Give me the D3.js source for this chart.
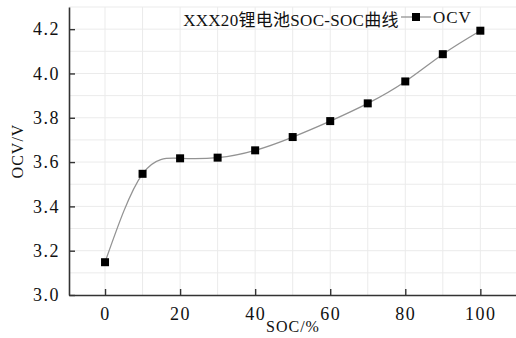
<!DOCTYPE html>
<html>
<head>
<meta charset="utf-8">
<script src="https://cdn.jsdelivr.net/npm/d3@7"></script>
<style>
  body { margin: 0; background: #fff; }
  svg { display: block; }
</style>
</head>
<body>
<div id="chart"></div>
<script>
const socValues = [0, 10, 20, 30, 40, 50, 60, 70, 80, 90, 100]
const ocvValues = [3.148, 3.547, 3.617, 3.620, 3.653, 3.713, 3.785, 3.865, 3.964, 4.087, 4.193]
const xTicks = [0, 20, 40, 60, 80, 100]
const yTicks = [3.0, 3.2, 3.4, 3.6, 3.8, 4.0, 4.2]
const titleText = 'XXX20锂电池SOC-SOC曲线'
const seriesName = 'OCV'

const W = 516, H = 338
const margin = { top: 7, right: 0, bottom: 43, left: 69 }
const FONT = '"Liberation Serif", "DejaVu Serif", "Noto Sans CJK SC", serif'

const svg = d3.select('#chart').append('svg')
  .attr('width', W).attr('height', H)

const x = d3.scaleLinear().domain([-9.6, 109.5]).range([margin.left, W - margin.right])
const y = d3.scaleLinear().domain([3.0, 4.3]).range([H - margin.bottom, margin.top])

// grid every 10 / 0.1
const grid = svg.append('g')
grid.selectAll('line.gx').data(d3.range(0, 110, 10)).enter().append('line')
  .attr('x1', d => x(d)).attr('x2', d => x(d))
  .attr('y1', y(3.0)).attr('y2', y(4.3))
  .attr('stroke', '#ebebeb').attr('stroke-width', 1)
grid.selectAll('line.gy').data(d3.range(3.1, 4.31, 0.1)).enter().append('line')
  .attr('x1', x.range()[0]).attr('x2', x.range()[1])
  .attr('y1', d => y(d)).attr('y2', d => y(d))
  .attr('stroke', '#ebebeb').attr('stroke-width', 1)

// axes
const xAxis = svg.append('g')
  .attr('transform', `translate(0,${y(3.0)})`)
  .call(d3.axisBottom(x).tickValues(xTicks).tickSizeInner(-6).tickSizeOuter(0).tickPadding(12).tickFormat(d3.format('d')))
const yAxis = svg.append('g')
  .attr('transform', `translate(${x.range()[0]},0)`)
  .call(d3.axisLeft(y).tickValues(yTicks).tickSizeInner(-6).tickSizeOuter(0).tickPadding(9).tickFormat(d3.format('.1f')))

for (const ax of [xAxis, yAxis]) {
  ax.select('.domain').attr('stroke', '#333').attr('stroke-width', 1.6)
  ax.selectAll('.tick line').attr('stroke', '#333').attr('stroke-width', 1.4)
  ax.selectAll('.tick text')
    .attr('fill', '#111')
    .style('font-family', FONT)
    .style('font-size', '18px')
    .style('letter-spacing', '1.5px')
}
xAxis.selectAll('.tick text').attr('dy', '0.71em')

// curve
const pts = socValues.map((s, i) => [s, ocvValues[i]])
svg.append('path')
  .datum(pts)
  .attr('fill', 'none')
  .attr('stroke', '#939393')
  .attr('stroke-width', 1.3)
  .attr('d', d3.line().x(d => x(d[0])).y(d => y(d[1])).curve(d3.curveNatural))

svg.selectAll('rect.pt').data(pts).enter().append('rect')
  .attr('x', d => x(d[0]) - 4).attr('y', d => y(d[1]) - 4)
  .attr('width', 8).attr('height', 8)
  .attr('fill', '#000')

// title
svg.append('text')
  .attr('x', 291).attr('y', 26)
  .attr('text-anchor', 'middle')
  .style('font-family', FONT)
  .style('font-size', '17px')
  .style('letter-spacing', '0.3px')
  .attr('fill', '#111')
  .text(titleText)

// legend
svg.append('line')
  .attr('x1', 401).attr('x2', 431).attr('y1', 17).attr('y2', 17)
  .attr('stroke', '#939393').attr('stroke-width', 1.3)
svg.append('rect')
  .attr('x', 412).attr('y', 13).attr('width', 8).attr('height', 8).attr('fill', '#000')
svg.append('text')
  .attr('x', 433).attr('y', 23)
  .style('font-family', FONT)
  .style('font-size', '17px')
  .style('letter-spacing', '1px')
  .attr('fill', '#111')
  .text(seriesName)

// axis labels
svg.append('text')
  .attr('transform', `translate(23,${(y(3.0) + y(4.3)) / 2}) rotate(-90)`)
  .attr('text-anchor', 'middle')
  .style('font-family', FONT)
  .style('font-size', '16px')
  .style('letter-spacing', '1px')
  .attr('fill', '#111')
  .text('OCV/V')
svg.append('text')
  .attr('x', 293).attr('y', 332)
  .attr('text-anchor', 'middle')
  .style('font-family', FONT)
  .style('font-size', '16px')
  .style('letter-spacing', '1px')
  .attr('fill', '#111')
  .text('SOC/%')
</script>
</body>
</html>
